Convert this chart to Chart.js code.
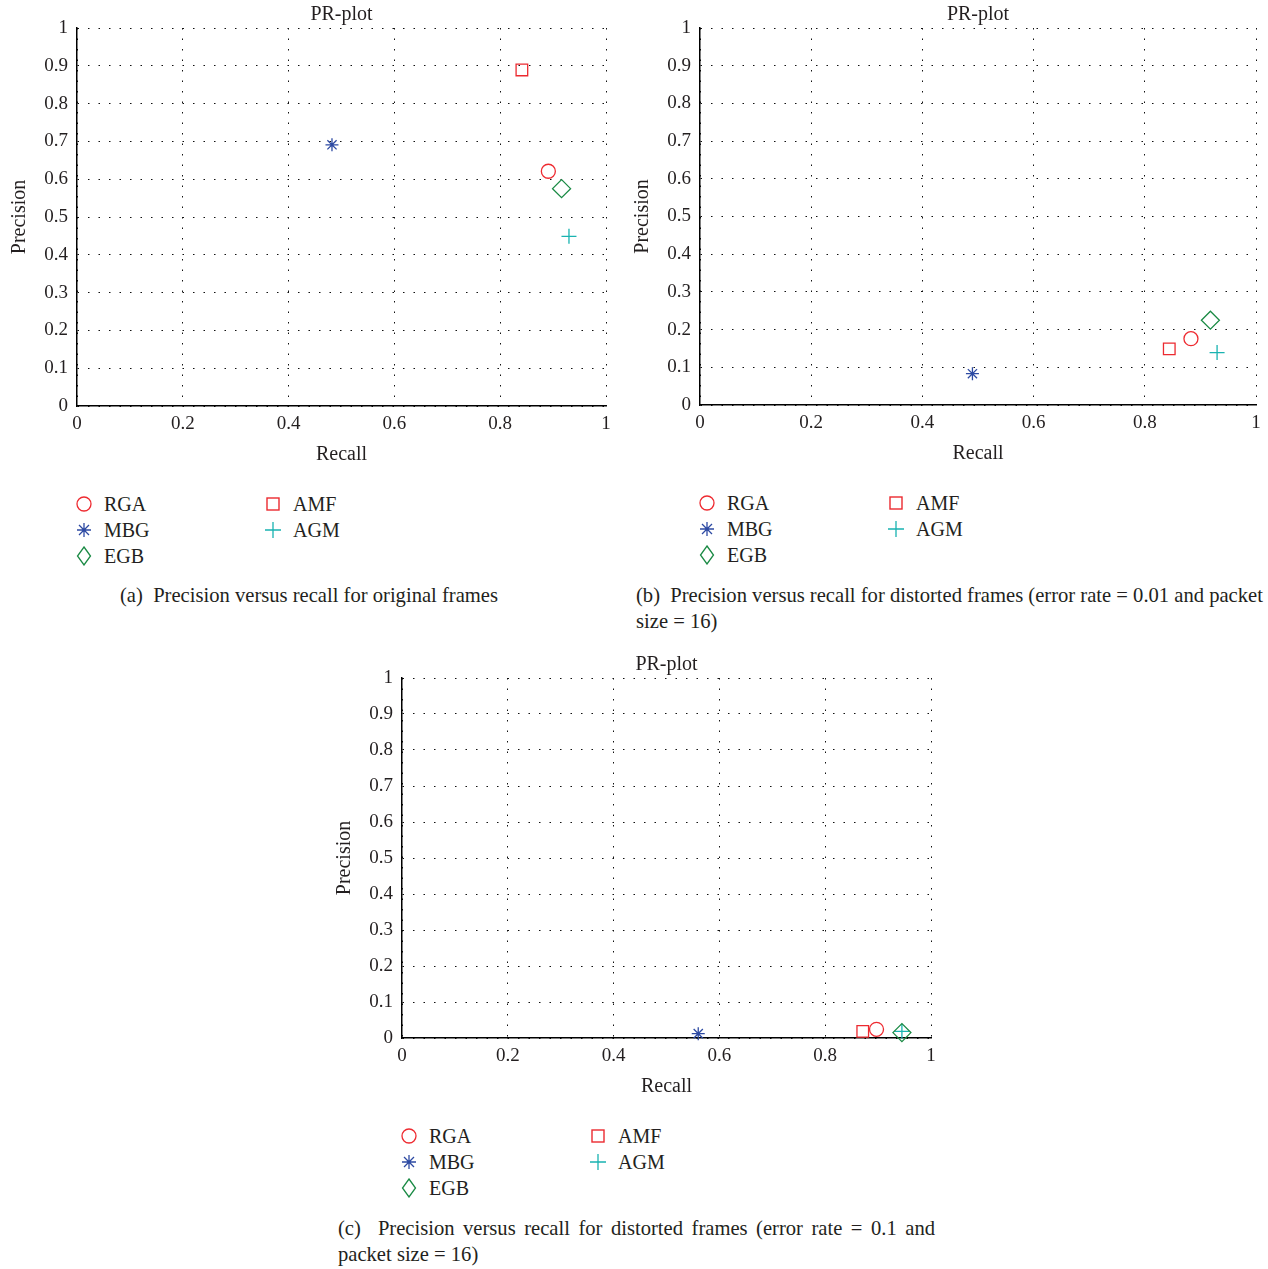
<!DOCTYPE html>
<html>
<head>
<meta charset="utf-8">
<script src="https://cdn.jsdelivr.net/npm/chart.js@4.4.1/dist/chart.umd.min.js"></script>
<style>
  body { margin: 0; background: #fff; width: 1268px; height: 1269px; position: relative; overflow: hidden;
         font-family: "Liberation Serif", "DejaVu Serif", serif; color: #231f20; }
  canvas { position: absolute; }
  .item { position: absolute; font-size: 20px; line-height: 24px; white-space: nowrap; }
  .item svg { position: absolute; top: 2px; }
  .cap { position: absolute; font-size: 20.6px; line-height: 26px; white-space: nowrap; }
  .just { text-align: justify; text-align-last: justify; }
</style>
</head>
<body>
<canvas id="chartA" width="664" height="470" style="left:0;top:0"></canvas>
<canvas id="chartB" width="645" height="469" style="left:623px;top:0"></canvas>
<canvas id="chartC" width="620" height="452" style="left:325px;top:650px"></canvas>

<div class="cap" style="left:120px;top:582px">(a)&nbsp; Precision versus recall for original frames</div>
<div class="cap" style="left:636px;top:582px">(b)&nbsp; Precision versus recall for distorted frames (error rate = 0.01 and packet<br>size = 16)</div>
<div class="cap" style="left:338px;top:1215px;width:597px">
  <div class="just">(c)&nbsp; Precision versus recall for distorted frames (error rate = 0.1 and</div>
  <div>packet size = 16)</div>
</div>

<script>
  const METHODS = ["RGA", "MBG", "EGB", "AMF", "AGM"];

  // (a) original frames
  const RECALL_A = [0.891, 0.482, 0.916, 0.841, 0.930];
  const PRECISION_A = [0.621, 0.691, 0.575, 0.889, 0.449];

  // (b) error rate 0.01, packet size 16
  const RECALL_B = [0.883, 0.490, 0.918, 0.844, 0.930];
  const PRECISION_B = [0.176, 0.083, 0.225, 0.149, 0.139];

  // (c) error rate 0.1, packet size 16
  const RECALL_C = [0.897, 0.560, 0.945, 0.871, 0.945];
  const PRECISION_C = [0.024, 0.012, 0.015, 0.0185, 0.0185];

  const X_TICKS = [0, 0.2, 0.4, 0.6, 0.8, 1];
  const Y_TICKS = [0, 0.1, 0.2, 0.3, 0.4, 0.5, 0.6, 0.7, 0.8, 0.9, 1];

  const FONT = "'Liberation Serif', 'DejaVu Serif', serif";
  const TEXT = "#231f20";

  const STYLES = {
    RGA: { color: "#ee2a30", point: "circle", radius: 7 },
    MBG: { color: "#2d4aa3", point: "star", radius: 6.5 },
    EGB: { color: "#1a8a44", point: "rectRot", radius: 9 },
    AMF: { color: "#ec2a30", point: "rect", radius: 8.2 },
    AGM: { color: "#19b3b1", point: "cross", radius: 7.5 },
  };

  const fmt = (v) => String(Number(v.toFixed(1)));

  function markerSvg(style) {
    const c = style.color;
    let body = "";
    if (style.point === "circle") body = `<circle cx="9" cy="10" r="7" fill="none" stroke="${c}" stroke-width="1.3"/>`;
    else if (style.point === "rect") body = `<rect x="3" y="4" width="12" height="12" fill="none" stroke="${c}" stroke-width="1.4"/>`;
    else if (style.point === "rectRot") body = `<polygon points="9,1 15.5,10 9,19 2.5,10" fill="none" stroke="${c}" stroke-width="1.3"/>`;
    else if (style.point === "cross") body = `<path d="M1,10 H17 M9,2 V18" stroke="${c}" stroke-width="1.3"/>`;
    else body = `<path d="M2,10 H16 M9,3 V17 M4,5 L14,15 M14,5 L4,15" stroke="${c}" stroke-width="1.3"/>`;
    return `<svg width="18" height="20" viewBox="0 0 18 20">${body}</svg>`;
  }

  function buildLegend(canvas, chart) {
    const left = canvas.offsetLeft + chart.chartArea.left;
    const bottom = canvas.offsetTop + chart.chartArea.bottom;
    METHODS.forEach((name, i) => {
      const col = i < 3 ? 0 : 1;
      const row = i < 3 ? i : i - 3;
      const el = document.createElement("div");
      el.className = "item";
      el.style.left = (left + 27 + col * 189) + "px";
      el.style.top = (bottom + 86 + row * 26) + "px";
      el.innerHTML = markerSvg(STYLES[name]).replace("<svg", '<svg style="left:-29px"') + name;
      document.body.appendChild(el);
    });
  }

  function makePRChart(canvasId, recall, precision, opts) {
    const canvas = document.getElementById(canvasId);
    const chart = new Chart(canvas, {
      type: "scatter",
      data: {
        datasets: METHODS.map((name, i) => ({
          label: name,
          data: [{ x: recall[i], y: precision[i] }],
          pointStyle: STYLES[name].point,
          pointRadius: STYLES[name].radius,
          pointBorderColor: STYLES[name].color,
          pointBackgroundColor: "rgba(0,0,0,0)",
          pointBorderWidth: 1.3,
          clip: false,
        })),
      },
      options: {
        responsive: false,
        animation: false,
        events: [],
        layout: { padding: { left: 0, right: opts.padRight, top: 0, bottom: 0 } },
        plugins: {
          legend: { display: false },
          tooltip: { enabled: false },
          title: {
            display: true,
            text: "PR-plot",
            fullSize: false,
            color: TEXT,
            font: { family: FONT, size: 20, weight: "normal" },
            padding: { top: 3, bottom: 1 },
          },
        },
        scales: {
          x: {
            type: "linear",
            min: 0,
            max: 1,
            afterBuildTicks: (axis) => { axis.ticks = X_TICKS.map((v) => ({ value: v })); },
            afterFit: (axis) => { axis.height = opts.xAxisHeight; },
            ticks: { color: TEXT, padding: 7, font: { family: FONT, size: 19 }, callback: fmt, maxRotation: 0 },
            grid: { color: "#111", lineWidth: 1, drawTicks: false },
            border: { display: true, color: "#000", width: 1.5, dash: [1.5, 9] },
            title: { display: true, text: "Recall", color: TEXT, font: { family: FONT, size: 20 }, padding: { top: 0, bottom: 3 } },
          },
          y: {
            type: "linear",
            min: 0,
            max: 1,
            afterBuildTicks: (axis) => { axis.ticks = Y_TICKS.map((v) => ({ value: v })); },
            afterFit: (axis) => { axis.width = 77; },
            ticks: { color: TEXT, padding: 9, font: { family: FONT, size: 19 }, callback: fmt },
            grid: { color: "#111", lineWidth: 1, drawTicks: false },
            border: { display: true, color: "#000", width: 1.5, dash: [1.5, 9] },
            title: { display: true, text: "Precision", color: TEXT, font: { family: FONT, size: 20 }, padding: { top: 8, bottom: 8 } },
          },
        },
      },
    });
    buildLegend(canvas, chart);
    return chart;
  }

  makePRChart("chartA", RECALL_A, PRECISION_A, { padRight: 58, xAxisHeight: 64 });
  makePRChart("chartB", RECALL_B, PRECISION_B, { padRight: 12, xAxisHeight: 64 });
  makePRChart("chartC", RECALL_C, PRECISION_C, { padRight: 14, xAxisHeight: 64 });
</script>
</body>
</html>
